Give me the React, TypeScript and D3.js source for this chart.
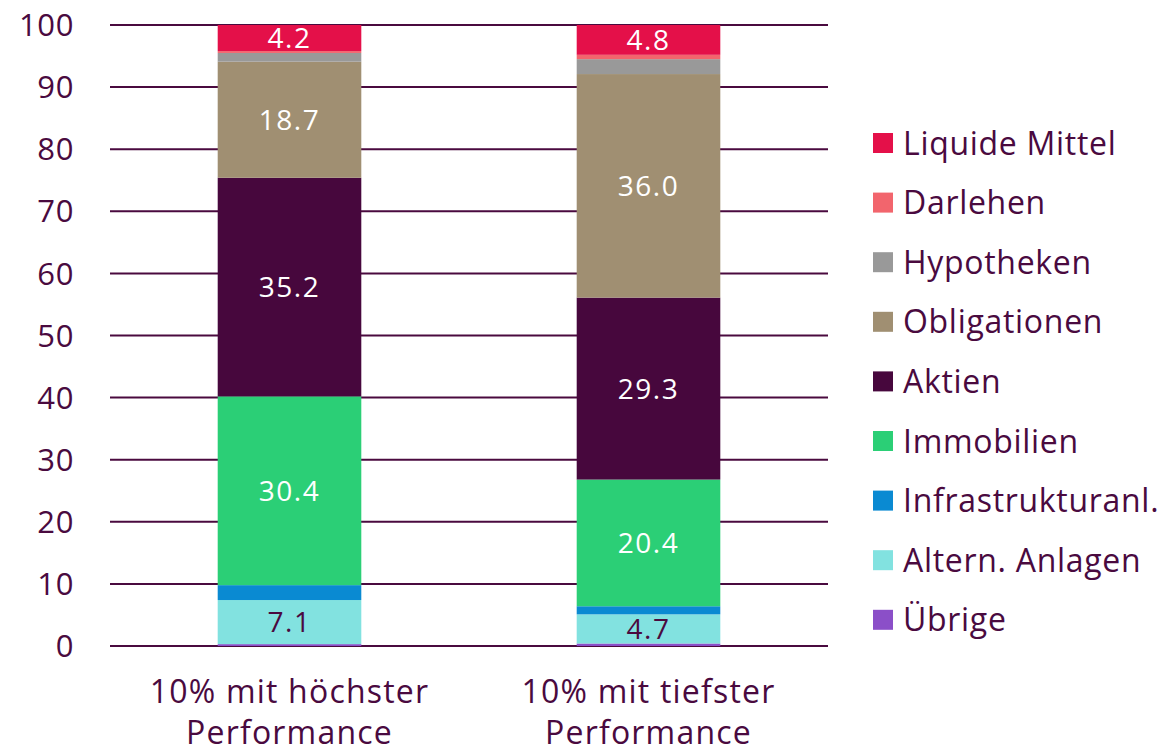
import { scaleBand, scaleLinear, stack } from 'd3';

// categories (bars)
const groups = ['10% mit höchster Performance', '10% mit tiefster Performance'];
const groupLines = [
  ['10% mit höchster', 'Performance'],
  ['10% mit tiefster', 'Performance'],
];

// series, bottom to top
const series = [
  'Übrige',
  'Altern. Anlagen',
  'Infrastrukturanl.',
  'Immobilien',
  'Aktien',
  'Obligationen',
  'Hypotheken',
  'Darlehen',
  'Liquide Mittel',
];
const colors = [
  '#8b4fc8',
  '#82e2e0',
  '#0a8ad2',
  '#2bcf76',
  '#47073d',
  '#a08f72',
  '#999999',
  '#f2656d',
  '#e41049',
];

// values per series [höchste, tiefste]
const uebrige = [0.3, 0.4];
const alternAnlagen = [7.1, 4.7];
const infrastruktur = [2.4, 1.3];
const immobilien = [30.4, 20.4];
const aktien = [35.2, 29.3];
const obligationen = [18.7, 36.0];
const hypotheken = [1.4, 2.4];
const darlehen = [0.3, 0.7];
const liquide = [4.2, 4.8];

// which series get a value label
const labelled = ['Altern. Anlagen', 'Immobilien', 'Aktien', 'Obligationen', 'Liquide Mittel'];

const yTicks = [0, 10, 20, 30, 40, 50, 60, 70, 80, 90, 100];

const W = 1159;
const H = 753;
const FONT = "'Open Sans', 'Noto Sans', sans-serif";
const TXT = '#4a0a3f';

export default function App() {
  const valueArrays = [
    uebrige,
    alternAnlagen,
    infrastruktur,
    immobilien,
    aktien,
    obligationen,
    hypotheken,
    darlehen,
    liquide,
  ];
  // table for d3.stack
  const table = groups.map((g, gi) => {
    const row: Record<string, any> = { group: g };
    series.forEach((s, si) => (row[s] = valueArrays[si][gi]));
    return row;
  });
  const layers = stack().keys(series)(table as any);

  const x = scaleBand().domain(groups).range([110, 828]).paddingInner(0.6).paddingOuter(0.3);
  const y = scaleLinear().domain([0, 100]).range([646, 25]);

  return (
    <svg width={W} height={H} style={{ position: 'absolute', left: 0, top: 0 }}>
      <rect width={W} height={H} fill="#fff" />
      {/* gridlines + y ticks */}
      {yTicks.map((t) => (
        <g key={t}>
          <line x1={110} x2={828} y1={y(t)} y2={y(t)} stroke={TXT} strokeWidth={2} />
          <text
            x={74}
            y={y(t)}
            dy="0.36em"
            textAnchor="end"
            fontFamily={FONT}
            fontSize={31}
            letterSpacing={0.6}
            fill={TXT}
          >
            {t}
          </text>
        </g>
      ))}
      {/* stacked bars */}
      {layers.map((layer, li) => (
        <g key={series[li]} fill={colors[li]}>
          {layer.map((d, gi) => (
            <rect
              key={gi}
              x={x(groups[gi])}
              width={x.bandwidth()}
              y={y(d[1])}
              height={y(d[0]) - y(d[1])}
            />
          ))}
        </g>
      ))}
      {/* value labels */}
      {layers.map((layer, li) =>
        labelled.includes(series[li])
          ? layer.map((d, gi) => (
              <text
                key={series[li] + gi}
                x={(x(groups[gi]) ?? 0) + x.bandwidth() / 2}
                y={(y(d[0]) + y(d[1])) / 2}
                dy="0.36em"
                textAnchor="middle"
                fontFamily={FONT}
                fontSize={28}
                letterSpacing={1.5}
                fill={series[li] === 'Altern. Anlagen' ? TXT : '#fff'}
              >
                {valueArrays[li][gi].toFixed(1)}
              </text>
            ))
          : null
      )}
      {/* x labels */}
      {groups.map((g, gi) => (
        <text
          key={g}
          textAnchor="middle"
          fontFamily={FONT}
          fontSize={32}
          letterSpacing={1.2}
          fill={TXT}
        >
          <tspan x={(x(g) ?? 0) + x.bandwidth() / 2} y={703}>
            {groupLines[gi][0]}
          </tspan>
          <tspan x={(x(g) ?? 0) + x.bandwidth() / 2} y={744}>
            {groupLines[gi][1]}
          </tspan>
        </text>
      ))}
      {/* legend, top to bottom */}
      {series
        .map((s, i) => ({ s, c: colors[i] }))
        .reverse()
        .map((d, i) => (
          <g key={d.s} transform={`translate(873, ${143 + i * 59.6})`}>
            <rect x={0} y={-10} width={20} height={20} fill={d.c} />
            <text
              x={30}
              dy="0.36em"
              fontFamily={FONT}
              fontSize={32}
              letterSpacing={0.7}
              fill={TXT}
            >
              {d.s}
            </text>
          </g>
        ))}
    </svg>
  );
}
